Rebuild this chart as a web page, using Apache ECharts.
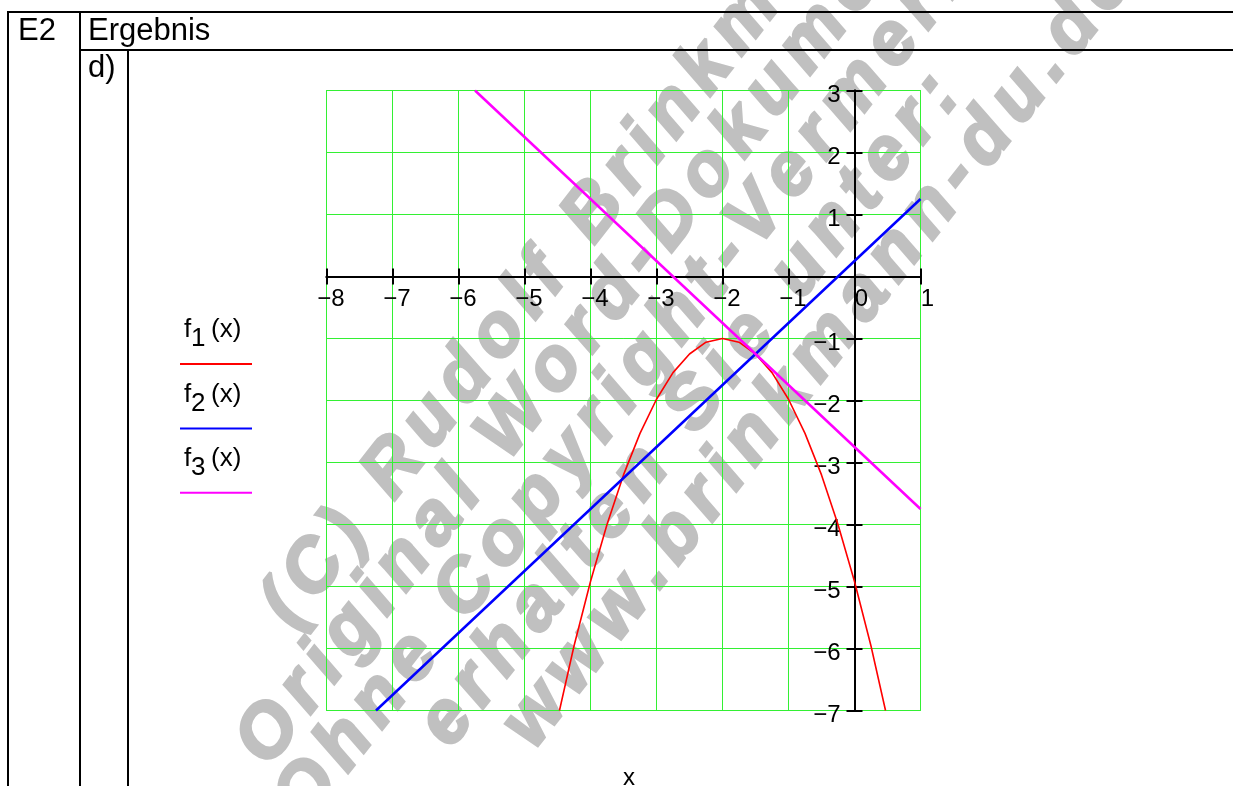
<!DOCTYPE html>
<html>
<head>
<meta charset="UTF-8">
<title></title>
<script src="https://cdn.jsdelivr.net/npm/echarts@6/dist/echarts.min.js"></script>
<style type="text/css">
  * { margin: 0; padding: 0; }
  #app { width: 1233px; height: 786px; background: #fff; }
</style>
</head>
<body>
<div id="app"></div>
<script type="text/javascript">
// values
var xMin = -8, xMax = 1, yMin = -7, yMax = 3;

var f1Data = [
  [-4.47, -7], [-4.25, -5.96], [-4, -4.92], [-3.75, -4.0], [-3.5, -3.2],
  [-3.25, -2.53], [-3, -1.98], [-2.75, -1.55], [-2.5, -1.25], [-2.25, -1.06],
  [-2, -1], [-1.75, -1.06], [-1.5, -1.25], [-1.25, -1.55], [-1, -1.98],
  [-0.75, -2.53], [-0.5, -3.2], [-0.25, -4.0], [0, -4.92], [0.25, -5.96], [0.47, -7]
];
var f2Data = [[-7.25, -7], [-6, -5.75], [-4, -3.75], [-2, -1.75], [0, 0.25], [1, 1.25]];
var f3Data = [[-5.75, 3], [-4, 1.25], [-2, -0.75], [0, -2.75], [1, -3.75]];

var seriesNames = ['1', '2', '3'];
var seriesColors = ['#ff0000', '#0000ff', '#ff00ff'];

var watermarkLines = [
  '(C) Rudolf Brinkmann',
  'Original Word-Dokument',
  'Ohne Copyright-Vermerk',
  'erhalten Sie unter:',
  'www.brinkmann-du.de'
];

var fontName = '"Liberation Sans", Arial, sans-serif';
var green = '#33f033';

// plot box in pixels (half-pixel edges keep the 1px grid crisp)
var gLeft = 326.5, gTop = 90.5, gW = 594, gH = 620;
var zeroX = gLeft + (0 - xMin) / (xMax - xMin) * gW;
var zeroY = gTop + (yMax - 0) / (yMax - yMin) * gH;

var myChart = echarts.init(document.getElementById('app'));

function minus(v) {
  return v < 0 ? '\u2212' + Math.abs(v) : String(v);
}

// watermark: letters spread along a diagonal
var wmAnchors = [
  { idx: 11, x: 594, y: 212 },
  { idx: 14, x: 671, y: 220 },
  { idx: 5, x: 466, y: 589 },
  { idx: 9, x: 695, y: 404 },
  { idx: 14, x: 985, y: 140 }
];
var wmAngle = 52 * Math.PI / 180;
var wmFont = 'italic bold 74px "Liberation Sans"';
var wmSpacing = 10;
var mctx = document.createElement('canvas').getContext('2d');
mctx.font = wmFont;
var watermark = [];
watermarkLines.forEach(function (line, li) {
  var chars = line.split('');
  var centers = [], pos = 0;
  chars.forEach(function (c) {
    var w = mctx.measureText(c).width;
    centers.push(pos + w / 2);
    pos += w + wmSpacing;
  });
  var a = wmAnchors[li];
  chars.forEach(function (c, i) {
    if (c === ' ') return;
    var d = centers[i] - centers[a.idx];
    watermark.push({
      type: 'text',
      x: a.x + d * Math.cos(wmAngle),
      y: a.y - d * Math.sin(wmAngle),
      rotation: wmAngle,
      z: -10,
      silent: true,
      style: {
        text: c, font: wmFont, fill: '#c0c0c0',
        stroke: '#c0c0c0', lineWidth: 3,
        align: 'center', verticalAlign: 'middle'
      }
    });
  });
});

// table frame
var frame = [
  [7, 12, 1233, 12], [80, 50, 1233, 50],
  [8, 12, 8, 786], [80, 12, 80, 786], [128, 50, 128, 786]
].map(function (l) {
  return { type: 'line', shape: { x1: l[0], y1: l[1], x2: l[2], y2: l[3] },
    style: { stroke: '#000', lineWidth: 2 } };
});

function txt(s, x, y, size, align) {
  return { type: 'text', x: x, y: y,
    style: { text: s, font: size + 'px ' + fontName, fill: '#000',
      align: align || 'left', verticalAlign: 'middle' } };
}

var legend = [];
seriesNames.forEach(function (n, i) {
  var dy = i * 64.4;
  legend.push(txt('f', 184, 330 + dy, 26));
  legend.push(txt(n, 191, 339 + dy, 26));
  legend.push(txt('(x)', 211, 330 + dy, 26));
  legend.push({ type: 'line', shape: { x1: 180, y1: 364 + dy, x2: 252, y2: 364 + dy },
    style: { stroke: seriesColors[i], lineWidth: 2 } });
});

function makeAxis(pos, min, max, offset, label) {
  return {
    type: 'value', min: min, max: max, interval: 1, position: pos, offset: offset,
    axisLine: { show: true, onZero: false, lineStyle: { color: '#000', width: 2 } },
    axisTick: { length: 8, lineStyle: { color: '#000', width: 2 } },
    axisLabel: label || { show: false },
    splitLine: { show: true, lineStyle: { color: green, width: 1, opacity: 1 } },
    splitArea: { show: false },
    minorSplitLine: { show: false }
  };
}

var labelStyle = { fontFamily: fontName, fontSize: 24, color: '#000' };

option = {
  animation: false,
  backgroundColor: '#fff',
  grid: {
    left: gLeft, top: gTop, width: gW, height: gH,
    show: true, borderColor: green, borderWidth: 1
  },
  xAxis: [
    makeAxis('bottom', xMin, xMax, -(gTop + gH - zeroY), {
      margin: 11,
      formatter: function (v) {
        return v < 0 ? '{n|' + minus(v) + '}' : '{p|' + v + '}';
      },
      rich: {
        n: Object.assign({ padding: [0, 0, 0, 9] }, labelStyle),
        p: Object.assign({ padding: [0, 0, 0, 14] }, labelStyle)
      }
    }),
    makeAxis('top', xMin, xMax, -(zeroY - gTop))
  ],
  yAxis: [
    makeAxis('left', yMin, yMax, -(zeroX - gLeft), {
      margin: 14,
      formatter: function (v) { return v === 0 ? '' : '{t|' + minus(v) + '}'; },
      rich: { t: Object.assign({ padding: [10, 0, 0, 0] }, labelStyle) }
    }),
    makeAxis('right', yMin, yMax, -(gLeft + gW - zeroX))
  ],
  series: [
    { name: 'f1', type: 'line', data: f1Data, showSymbol: false, symbol: 'none',
      lineStyle: { color: seriesColors[0], width: 1.6 }, z: 5 },
    { name: 'f2', type: 'line', data: f2Data, showSymbol: false, symbol: 'none',
      lineStyle: { color: seriesColors[1], width: 2.5 }, z: 5 },
    { name: 'f3', type: 'line', data: f3Data, showSymbol: false, symbol: 'none',
      lineStyle: { color: seriesColors[2], width: 2.5 }, z: 5 }
  ],
  graphic: { elements: watermark.concat(frame, legend, [
    txt('E2', 18, 31, 31),
    txt('Ergebnis', 88, 31, 31),
    txt('d)', 88, 68, 31),
    txt('x', 629, 778, 24, 'center')
  ]) }
};

myChart.setOption(option);
</script>
</body>
</html>
